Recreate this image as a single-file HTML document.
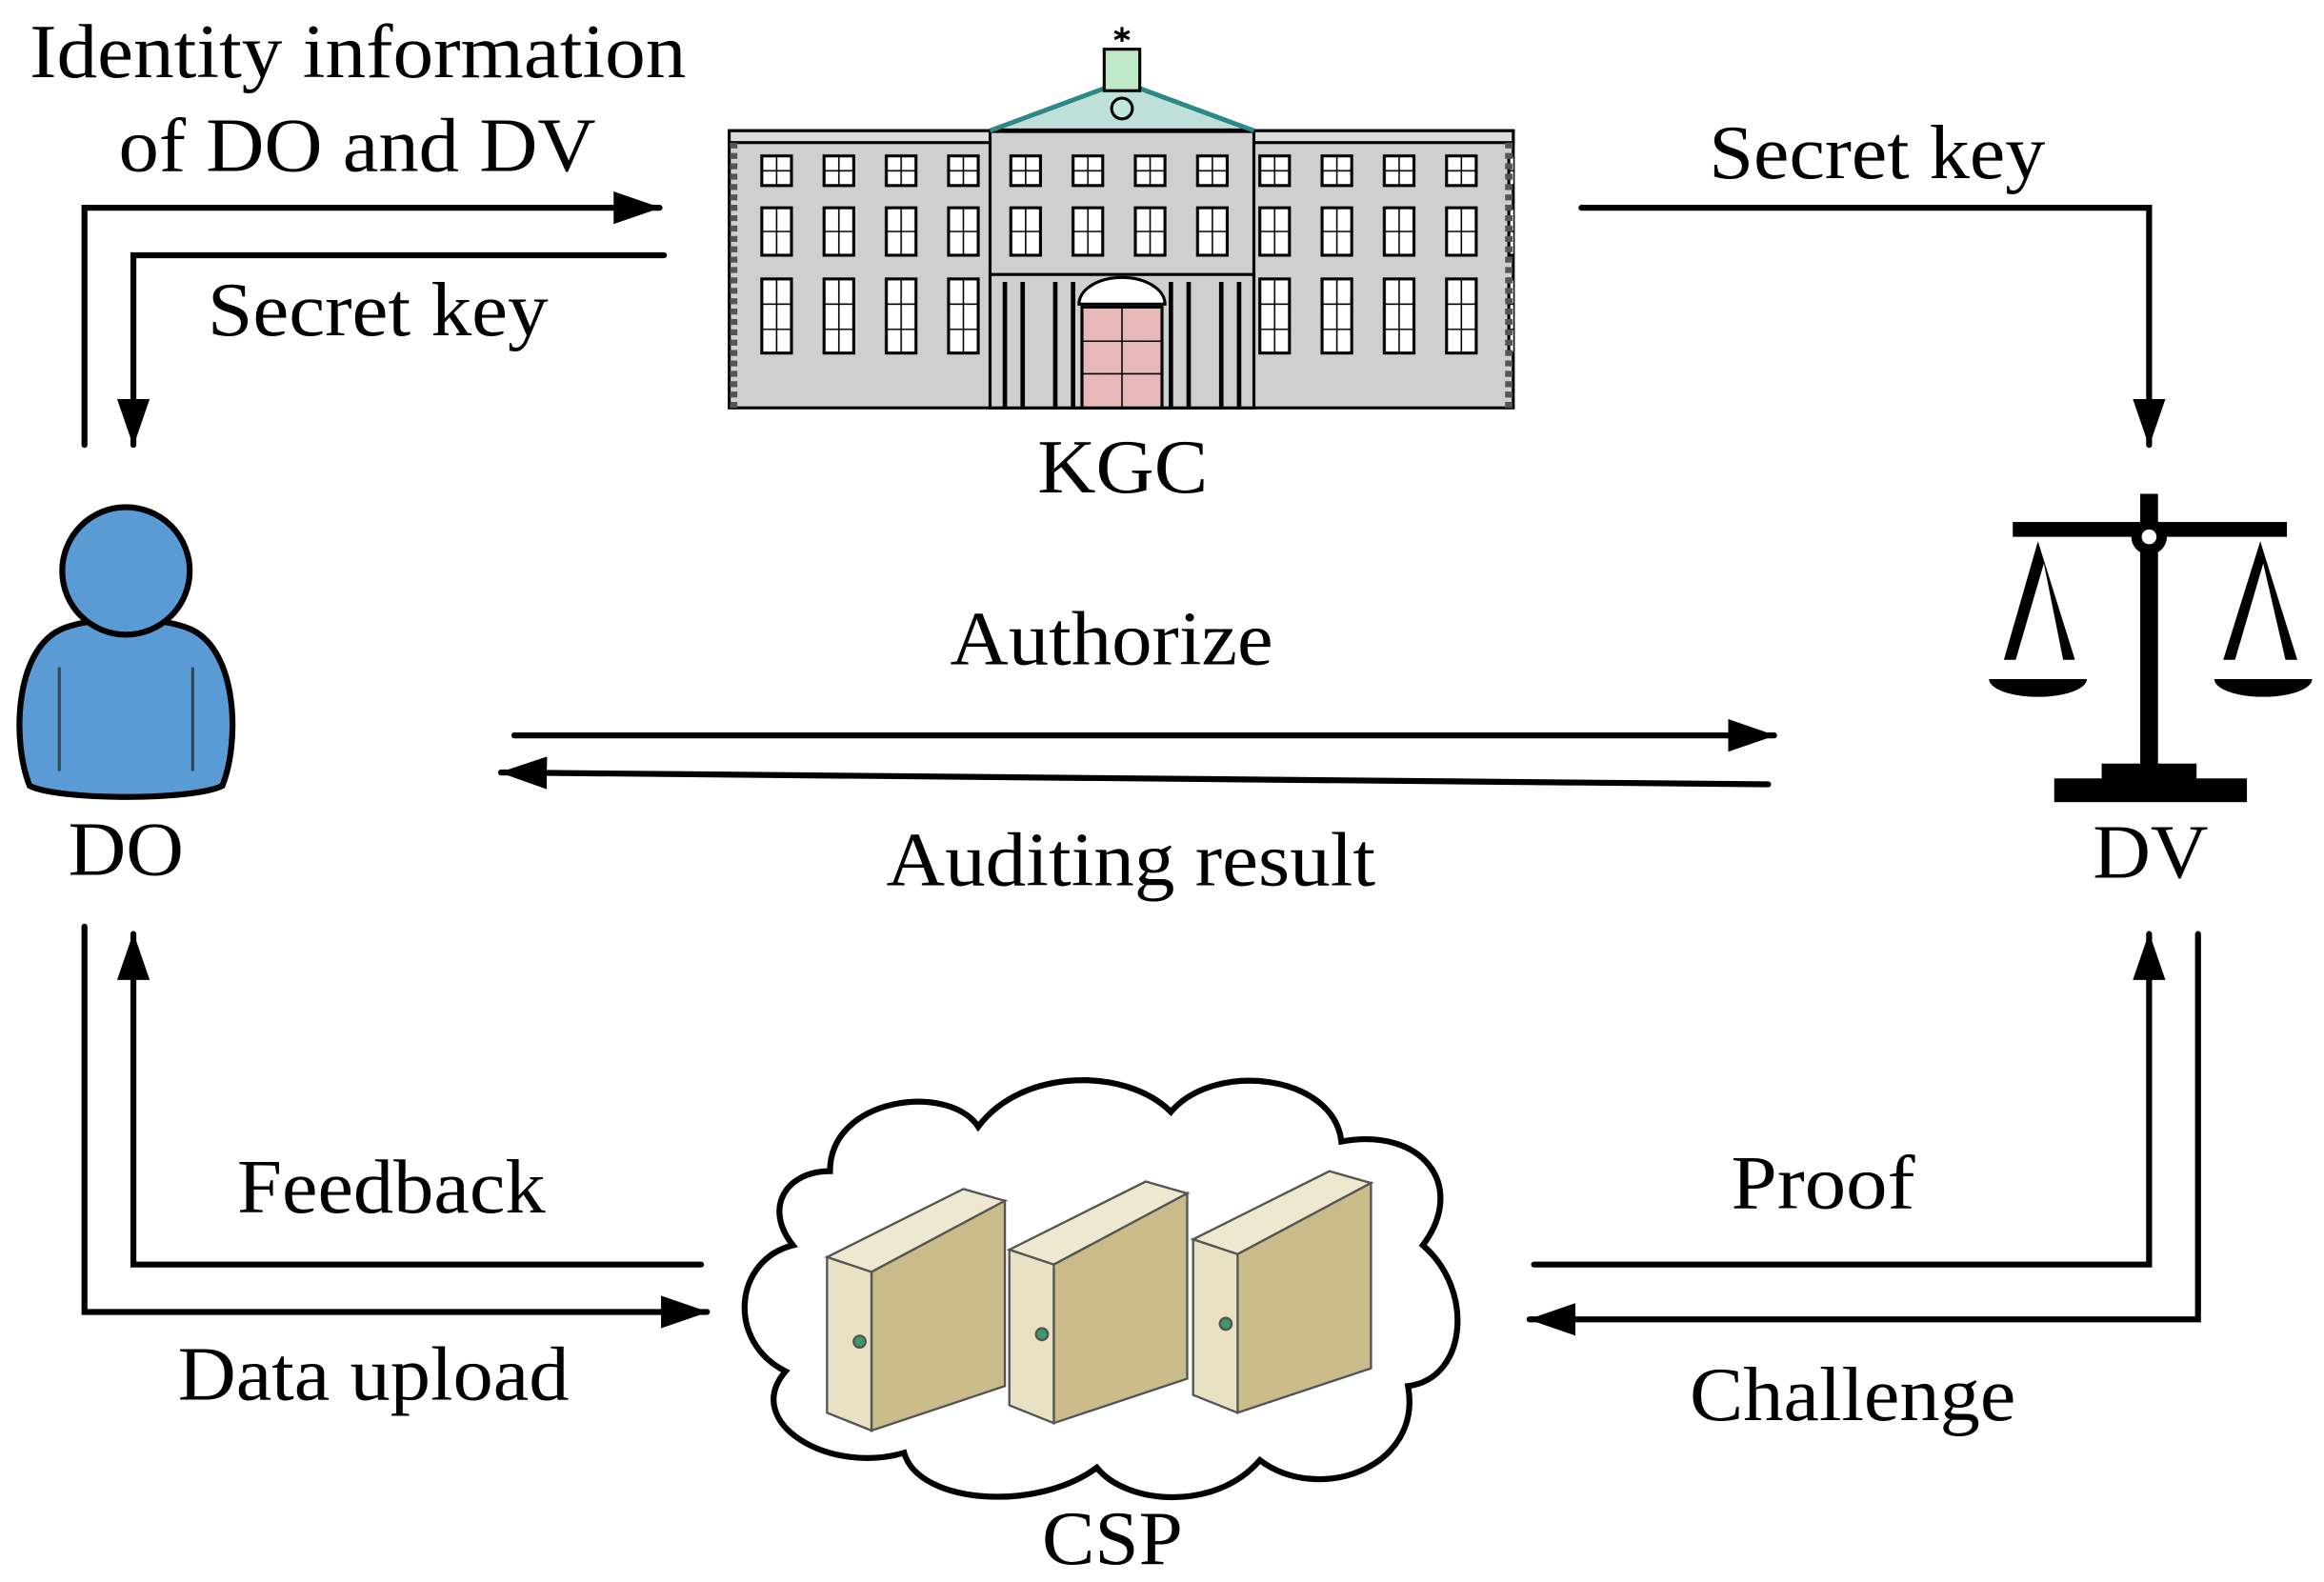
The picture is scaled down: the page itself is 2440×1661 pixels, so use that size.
<!DOCTYPE html>
<html><head><meta charset="utf-8"><style>html,body{margin:0;padding:0;background:#fff}svg{display:block}</style></head>
<body>
<svg width="2440" height="1661" viewBox="0 0 1568 1067" xmlns="http://www.w3.org/2000/svg" font-family="Liberation Serif, serif" font-size="52">
<defs>
<marker id="ah" markerWidth="32" markerHeight="22" refX="31" refY="11" orient="auto" markerUnits="userSpaceOnUse"><path d="M0,0 L32,11 L0,22z" fill="#000"/></marker>
<pattern id="win" x="510" y="0" width="42" height="290" patternUnits="userSpaceOnUse">
<rect x="4" y="105" width="20" height="20" fill="#fff" stroke="#000" stroke-width="2"/><path d="M14,105v20M4,115h20" stroke="#000" stroke-width="1"/>
<rect x="4" y="140" width="20" height="32" fill="#fff" stroke="#000" stroke-width="2"/><path d="M14,140v32M4,156h20" stroke="#000" stroke-width="1"/>
<rect x="4" y="188" width="20" height="50" fill="#fff" stroke="#000" stroke-width="2"/><path d="M14,188v50M4,205h20M4,222h20" stroke="#000" stroke-width="1"/>
</pattern>
</defs>
<g fill="#000" lengthAdjust="spacingAndGlyphs">
<text x="20" y="52" textLength="443" lengthAdjust="spacingAndGlyphs">Identity information</text>
<text x="80" y="115" textLength="322" lengthAdjust="spacingAndGlyphs">of DO and DV</text>
<text x="140" y="226" textLength="230" lengthAdjust="spacingAndGlyphs">Secret key</text>
<text x="1153" y="120" textLength="227" lengthAdjust="spacingAndGlyphs">Secret key</text>
<text x="700" y="332" textLength="115" lengthAdjust="spacingAndGlyphs">KGC</text>
<text x="46" y="590" textLength="78" lengthAdjust="spacingAndGlyphs">DO</text>
<text x="1412" y="592" textLength="78" lengthAdjust="spacingAndGlyphs">DV</text>
<text x="641" y="448" textLength="218" lengthAdjust="spacingAndGlyphs">Authorize</text>
<text x="598" y="597" textLength="330" lengthAdjust="spacingAndGlyphs">Auditing result</text>
<text x="160" y="818" textLength="208" lengthAdjust="spacingAndGlyphs">Feedback</text>
<text x="120" y="944" textLength="264" lengthAdjust="spacingAndGlyphs">Data upload</text>
<text x="1168" y="815" textLength="124" lengthAdjust="spacingAndGlyphs">Proof</text>
<text x="1140" y="958" textLength="220" lengthAdjust="spacingAndGlyphs">Challenge</text>
<text x="703" y="1055" textLength="95" lengthAdjust="spacingAndGlyphs">CSP</text>
</g>
<g fill="none" stroke="#000" stroke-width="4" stroke-linecap="round">
<path d="M57,300V140H445" marker-end="url(#ah)"/>
<path d="M448,172H90V300" marker-end="url(#ah)"/>
<path d="M1067,140H1450V300" marker-end="url(#ah)"/>
<path d="M347,496H1197" marker-end="url(#ah)"/>
<path d="M1193,529L338,521" marker-end="url(#ah)"/>
<path d="M473,853H90V630" marker-end="url(#ah)"/>
<path d="M57,625V885H477" marker-end="url(#ah)"/>
<path d="M1035,853H1450V630" marker-end="url(#ah)"/>
<path d="M1483,630V890H1032" marker-end="url(#ah)"/>
</g>
<g stroke="#000">
<rect x="492" y="88" width="529" height="187" fill="#cfcfcf" stroke-width="2"/>
<rect x="492" y="88" width="529" height="8" fill="#ddd" stroke-width="2"/>
<rect x="492" y="96" width="529" height="179" fill="url(#win)" stroke="none"/>
<rect x="668" y="88" width="178" height="187" fill="#cfcfcf" stroke-width="2"/>
<rect x="668" y="96" width="178" height="179" fill="url(#win)" stroke="none"/>
<path d="M668,88L757,55L846,88z" fill="#bfe0d8" stroke="#000" stroke-width="3"/>
<path d="M668,88L757,55L846,88" fill="none" stroke="#2a8a8a" stroke-width="3"/>
<circle cx="757" cy="73" r="7" fill="#bfe8d8" stroke-width="2"/>
<rect x="745" y="33" width="24" height="28" fill="#bfe8c8" stroke-width="2"/>
<path d="M757,18v10M752,21l10,5M762,21l-10,5" stroke-width="2"/>
<rect x="668" y="185" width="178" height="90" fill="#cfcfcf" stroke-width="2"/>
<path d="M678,190v85M690,190v85M712,190v85M724,190v85M790,190v85M802,190v85M824,190v85M836,190v85" stroke-width="3"/>
<path d="M728,205a29,18 0 0 1 58,0z" fill="#fff" stroke-width="2"/>
<rect x="730" y="207" width="54" height="68" fill="#e6b8b8" stroke-width="2"/>
<path d="M757,207v68M730,230h54M730,252h54" stroke-width="1"/>
<path d="M495,96v179M1018,96v179" stroke="#555" stroke-width="5" stroke-dasharray="4,3"/>
</g>
<g stroke="#333" stroke-width="3" fill="#5b9bd5">
<path d="M20,530C8,500 10,440 40,425C60,415 110,415 130,425C160,440 162,500 150,530C130,540 40,540 20,530z" fill="#5b9bd5" stroke="#000" stroke-width="4"/>
<circle cx="85" cy="385" r="43" fill="#5b9bd5" stroke="#000" stroke-width="4"/>
<path d="M40,450v70M130,450v70" fill="none" stroke="#345" stroke-width="2"/>
</g>
<g fill="#000">
<rect x="1358" y="352" width="185" height="10"/>
<rect x="1444" y="333" width="12" height="190"/>
<circle cx="1450" cy="362" r="12"/><circle cx="1450" cy="362" r="5" fill="#fff"/>
<rect x="1418" y="515" width="64" height="12"/>
<rect x="1386" y="525" width="130" height="16"/>
<path d="M1375,365L1352,445h8L1379,380L1392,445h8z"/>
<path d="M1525,365L1500,445h8L1527,380L1542,445h8z"/>
<path d="M1342,458h66a33,12 0 0 1-66,0z"/>
<path d="M1494,458h66a33,12 0 0 1-66,0z"/>
</g>
<path d="M560,790C560,740 640,730 660,760C690,720 760,720 790,750C820,715 900,725 905,770C960,760 990,800 960,840C995,870 990,930 950,935C960,990 890,1015 850,985C820,1020 760,1015 740,990C700,1020 620,1015 610,980C560,995 500,960 530,925C490,905 495,850 535,840C515,815 530,790 560,790z" fill="#fff" stroke="#000" stroke-width="4"/>
<g stroke="#555" stroke-width="1.5">
<g>
<polygon points="558,848 650,802 678,810 588,858" fill="#eee8d0"/>
<polygon points="588,858 678,810 678,935 588,965" fill="#c9bb8a"/>
<polygon points="558,848 588,858 588,965 558,953" fill="#e9e1c4"/>
<circle cx="580" cy="905" r="4" fill="#3a9a6a"/>
</g>
<g transform="translate(123,-5)">
<polygon points="558,848 650,802 678,810 588,858" fill="#eee8d0"/>
<polygon points="588,858 678,810 678,935 588,965" fill="#c9bb8a"/>
<polygon points="558,848 588,858 588,965 558,953" fill="#e9e1c4"/>
<circle cx="580" cy="905" r="4" fill="#3a9a6a"/>
</g>
<g transform="translate(247,-12)">
<polygon points="558,848 650,802 678,810 588,858" fill="#eee8d0"/>
<polygon points="588,858 678,810 678,935 588,965" fill="#c9bb8a"/>
<polygon points="558,848 588,858 588,965 558,953" fill="#e9e1c4"/>
<circle cx="580" cy="905" r="4" fill="#3a9a6a"/>
</g>
</g>
</svg>
</body></html>
